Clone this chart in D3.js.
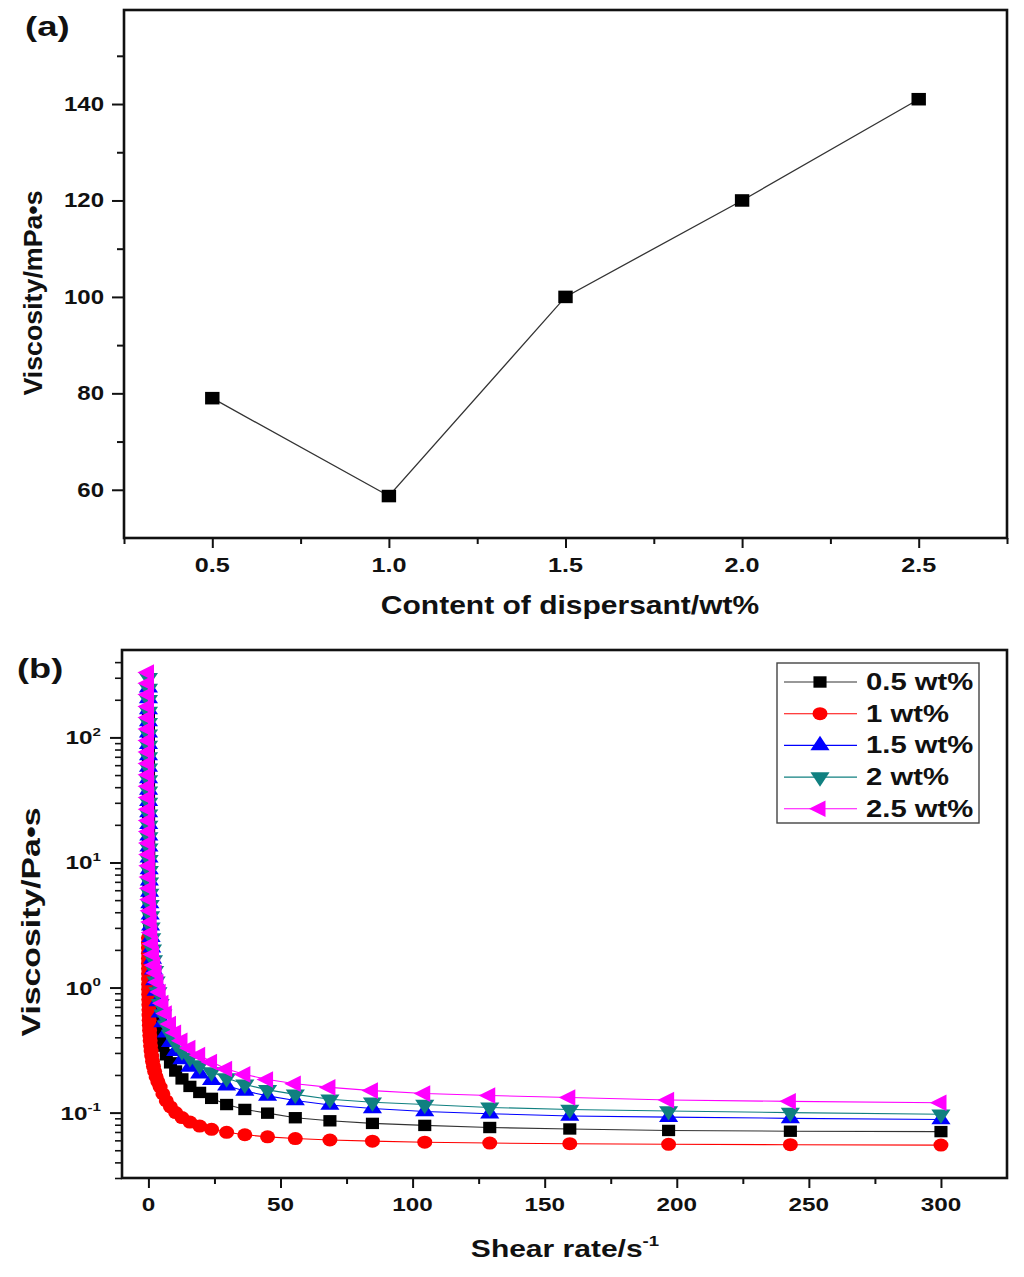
<!DOCTYPE html>
<html lang="en">
<head>
<meta charset="UTF-8" />
<title>Viscosity of slurries</title>
<script src="https://cdn.jsdelivr.net/npm/d3@7"></script>
<style>
  body { margin: 0; background: #fff; }
  svg text { font-family: "Liberation Sans", Arial, sans-serif; font-weight: bold; fill: #111; }
  .tick line { stroke: #111; stroke-width: 2; }
  .frame { fill: none; stroke: #111; stroke-width: 2.6; }
</style>
</head>
<body>
<svg id="chart" width="1024" height="1277"></svg>
<script>

// ---- panel (a): viscosity vs dispersant content ----
var contentX = [0.5, 1.0, 1.5, 2.0, 2.5];
var viscosityA = [79, 58.7, 100, 120, 141];
var ticksAx = [0.5, 1.0, 1.5, 2.0, 2.5];
var ticksAy = [60, 80, 100, 120, 140];

// ---- panel (b): flow curves ----
var seriesNames = ["0.5 wt%", "1 wt%", "1.5 wt%", "2 wt%", "2.5 wt%"];
var shearRate = [0.00987, 0.0122, 0.0150, 0.0186, 0.0229, 0.0283, 0.0349, 0.0431, 0.0532, 0.0657,
                 0.0811, 0.100, 0.124, 0.153, 0.188, 0.232, 0.287, 0.354, 0.437, 0.540,
                 0.667, 0.823, 1.02, 1.25, 1.55, 1.91, 2.36, 2.91, 3.60, 4.44,
                 5.48, 6.77, 8.35, 10.3, 12.7, 15.7, 19.4, 23.9, 29.6, 36.5,
                 45.1, 55.6, 68.7, 84.8, 104.6, 129.2, 159.5, 196.9, 243.0, 300];
var visc05 = [146, 120, 97.4, 78.6, 63.8, 51.7, 41.9, 33.9, 27.5, 22.3,
              18.1, 14.7, 11.8, 9.61, 7.83, 6.36, 5.15, 4.19, 3.41, 2.77,
              2.25, 1.84, 1.50, 1.23, 1.01, 0.830, 0.684, 0.567, 0.471, 0.394,
              0.340, 0.290, 0.250, 0.215, 0.186, 0.162, 0.145, 0.130, 0.116, 0.106,
              0.099, 0.091, 0.086, 0.082, 0.079, 0.076, 0.074, 0.072, 0.071, 0.0705];
var visc1 = [2.50, 2.27, 2.07, 1.88, 1.71, 1.56, 1.42, 1.29, 1.17, 1.06,
             0.969, 0.881, 0.801, 0.729, 0.663, 0.603, 0.548, 0.499, 0.454, 0.413,
             0.376, 0.342, 0.311, 0.283, 0.257, 0.234, 0.213, 0.193, 0.176, 0.160,
             0.141, 0.124, 0.111, 0.100, 0.0912, 0.0840, 0.0781, 0.0735, 0.0696, 0.0665,
             0.0640, 0.0620, 0.0604, 0.0591, 0.0580, 0.0571, 0.0564, 0.0558, 0.0554, 0.0550];
var visc15 = [250, 205, 167, 134, 109, 88.4, 71.7, 58.0, 47.0, 38.1,
              30.9, 25.1, 20.2, 16.4, 13.4, 10.9, 8.79, 7.14, 5.80, 4.71,
              3.83, 3.12, 2.53, 2.08, 1.69, 1.39, 1.14, 0.939, 0.774, 0.630,
              0.525, 0.435, 0.365, 0.310, 0.266, 0.232, 0.205, 0.182, 0.164, 0.149,
              0.136, 0.125, 0.115, 0.108, 0.102, 0.098, 0.094, 0.092, 0.090, 0.088];
var visc2 = [300, 246, 200, 161, 131, 106, 86.0, 69.6, 56.5, 45.7,
             37.1, 30.1, 24.3, 19.7, 16.0, 13.0, 10.5, 8.56, 6.95, 5.64,
             4.58, 3.73, 3.03, 2.49, 2.02, 1.66, 1.36, 1.12, 0.920, 0.740,
             0.610, 0.500, 0.420, 0.360, 0.310, 0.274, 0.240, 0.211, 0.189, 0.168,
             0.152, 0.140, 0.128, 0.121, 0.116, 0.110, 0.106, 0.103, 0.100, 0.097];
var visc25 = [330, 271, 220, 177, 144, 117, 94.6, 76.6, 62.0, 50.2,
              40.7, 33.1, 26.7, 21.7, 17.7, 14.3, 11.6, 9.43, 7.66, 6.22,
              5.06, 4.12, 3.35, 2.75, 2.24, 1.84, 1.51, 1.31, 1.10, 0.920,
              0.750, 0.620, 0.510, 0.435, 0.375, 0.328, 0.288, 0.254, 0.223, 0.202,
              0.184, 0.170, 0.159, 0.150, 0.142, 0.137, 0.132, 0.126, 0.123, 0.120];
var ticksBx = [0, 50, 100, 150, 200, 250, 300];
var ticksBy = [0.1, 1, 10, 100];
var ticksByExp = ["-1", "0", "1", "2"];

// styles for each series (same order as seriesNames)
var seriesStyle = [
  { color: "#000000", line: "#333333", shape: "square" },
  { color: "#ff0000", line: "#ff0000", shape: "circle" },
  { color: "#0000ff", line: "#0000ff", shape: "up" },
  { color: "#108080", line: "#108080", shape: "down" },
  { color: "#ff00ff", line: "#ff00ff", shape: "left" }
];
var seriesValues = [visc05, visc1, visc15, visc2, visc25];

var svg = d3.select("#chart");

// text helper: the original figure is stretched sideways, so each text gets a horizontal scale
function label(g, x, y, size, sx, anchor, main, sup, rot) {
  var t = g.append("text")
    .attr("transform", "translate(" + x + "," + y + ")" + (rot ? " rotate(" + rot + ")" : "") + " scale(" + sx + ",1)")
    .attr("text-anchor", anchor)
    .style("font-size", size + "px");
  t.append("tspan").text(main);
  if (sup) {
    t.append("tspan").attr("dy", -size * 0.45).style("font-size", (size * 0.62) + "px").text(sup);
  }
  return t;
}

// marker helper
function marker(g, shape, color, x, y, big) {
  var k = big || 1;
  if (shape == "circle") {
    g.append("ellipse").attr("cx", x).attr("cy", y).attr("rx", 7.5 * k).attr("ry", 6.5 * k).attr("fill", color);
    return;
  }
  var type = shape == "square" ? d3.symbolSquare : d3.symbolTriangle;
  var size = shape == "square" ? 130 : 120;
  var rot = shape == "down" ? 180 : shape == "left" ? -90 : 0;
  g.append("path")
    .attr("d", d3.symbol().type(type).size(size * k * k)())
    .attr("transform", "translate(" + x + "," + y + ") scale(1.15,1) rotate(" + rot + ")")
    .attr("fill", color);
}

// ================= panel (a) =================
var A = { left: 124, right: 1007, top: 10, bottom: 538 };
var xA = d3.scaleLinear().domain([0.25, 2.75]).range([A.left, A.right]);
var yA = d3.scaleLinear().domain([50, 159.5]).range([A.bottom, A.top]);

var gA = svg.append("g");

gA.append("g")
  .attr("transform", "translate(0," + A.bottom + ")")
  .call(d3.axisBottom(xA).tickValues(ticksAx).tickSize(10).tickFormat(""))
  .call(function(g) { g.select(".domain").remove(); });
gA.append("g")
  .attr("transform", "translate(0," + A.bottom + ")")
  .call(d3.axisBottom(xA).tickValues([0.25, 0.75, 1.25, 1.75, 2.25, 2.75]).tickSize(6).tickFormat(""))
  .call(function(g) { g.select(".domain").remove(); });
gA.append("g")
  .attr("transform", "translate(" + A.left + ",0)")
  .call(d3.axisLeft(yA).tickValues(ticksAy).tickSize(12).tickFormat(""))
  .call(function(g) { g.select(".domain").remove(); });
gA.append("g")
  .attr("transform", "translate(" + A.left + ",0)")
  .call(d3.axisLeft(yA).tickValues([70, 90, 110, 130, 150]).tickSize(7).tickFormat(""))
  .call(function(g) { g.select(".domain").remove(); });

gA.append("rect").attr("class", "frame")
  .attr("x", A.left).attr("y", A.top)
  .attr("width", A.right - A.left).attr("height", A.bottom - A.top);

ticksAx.forEach(function(v) {
  label(gA, xA(v), 572, 21, 1.2, "middle", d3.format(".1f")(v));
});
ticksAy.forEach(function(v) {
  label(gA, 104, yA(v) + 7, 20, 1.2, "end", String(v));
});

var lineA = d3.line()
  .x(function(d, i) { return xA(contentX[i]); })
  .y(function(d) { return yA(d); });
gA.append("path").datum(viscosityA)
  .attr("d", lineA).attr("fill", "none").attr("stroke", "#333").attr("stroke-width", 1.3);
viscosityA.forEach(function(v, i) {
  marker(gA, "square", "#000", xA(contentX[i]), yA(v), 1.1);
});

label(gA, 570, 614, 25, 1.2, "middle", "Content of dispersant/wt%");
label(gA, 42, 293, 26, 1.03, "middle", "Viscosity/mPa\u2022s", null, -90);
label(gA, 25, 36, 27, 1.35, "start", "(a)");

// ================= panel (b) =================
var B = { left: 122, right: 1007, top: 650, bottom: 1178 };
var xB = d3.scaleLinear().domain([-10, 325]).range([B.left, B.right]);
var yB = d3.scaleLog().domain([0.03, 500]).range([B.bottom, B.top]);

var gB = svg.append("g");

gB.append("g")
  .attr("transform", "translate(0," + B.bottom + ")")
  .call(d3.axisBottom(xB).tickValues(ticksBx).tickSize(10).tickFormat(""))
  .call(function(g) { g.select(".domain").remove(); });
gB.append("g")
  .attr("transform", "translate(0," + B.bottom + ")")
  .call(d3.axisBottom(xB).tickValues([25, 75, 125, 175, 225, 275]).tickSize(6).tickFormat(""))
  .call(function(g) { g.select(".domain").remove(); });
gB.append("g")
  .attr("transform", "translate(" + B.left + ",0)")
  .call(d3.axisLeft(yB).tickValues(ticksBy).tickSize(12).tickFormat(""))
  .call(function(g) { g.select(".domain").remove(); });
var minorLog = yB.ticks().filter(function(v) {
  return ticksBy.indexOf(v) < 0 && v < 500;
});
gB.append("g")
  .attr("transform", "translate(" + B.left + ",0)")
  .call(d3.axisLeft(yB).tickValues(minorLog).tickSize(7).tickFormat(""))
  .call(function(g) { g.select(".domain").remove(); g.selectAll(".tick line").style("stroke-width", 1.6); });

gB.append("rect").attr("class", "frame")
  .attr("x", B.left).attr("y", B.top)
  .attr("width", B.right - B.left).attr("height", B.bottom - B.top);

ticksBx.forEach(function(v) {
  label(gB, xB(v), 1211, 18, 1.35, "middle", String(v));
});
ticksBy.forEach(function(v, i) {
  label(gB, 101, yB(v) + 7, 19, 1.28, "end", "10", ticksByExp[i]);
});

// series: drawn in legend order, last one on top
gB.append("clipPath").attr("id", "clipB")
  .append("rect").attr("x", B.left).attr("y", B.top)
  .attr("width", B.right - B.left).attr("height", B.bottom - B.top);
var plotB = gB.append("g").attr("clip-path", "url(#clipB)");

seriesValues.forEach(function(vals, s) {
  var st = seriesStyle[s];
  var ln = d3.line()
    .x(function(d, i) { return xB(shearRate[i]); })
    .y(function(d) { return yB(d); });
  var g = plotB.append("g");
  g.append("path").datum(vals)
    .attr("d", ln).attr("fill", "none").attr("stroke", st.line).attr("stroke-width", 1.1);
  vals.forEach(function(v, i) {
    marker(g, st.shape, st.color, xB(shearRate[i]), yB(v));
  });
});

// legend
var legend = gB.append("g");
legend.append("rect")
  .attr("x", 777).attr("y", 663).attr("width", 202).attr("height", 160)
  .attr("fill", "#fff").attr("stroke", "#444").attr("stroke-width", 1.4);
seriesNames.forEach(function(name, s) {
  var st = seriesStyle[s];
  var yy = 682 + s * 31.7;
  legend.append("line")
    .attr("x1", 784).attr("x2", 857).attr("y1", yy).attr("y2", yy)
    .attr("stroke", st.line).attr("stroke-width", 1.1);
  marker(legend, st.shape, st.color, 820, yy);
  label(legend, 866, yy + 8, 24, 1.22, "start", name);
});

label(gB, 565, 1257, 24, 1.25, "middle", "Shear rate/s", "-1");
label(gB, 40, 922, 26, 1.3, "middle", "Viscosity/Pa\u2022s", null, -90);
label(gB, 17, 678, 27, 1.34, "start", "(b)");

</script>
</body>
</html>
